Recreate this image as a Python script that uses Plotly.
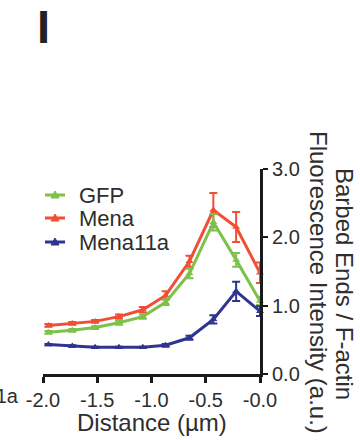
import plotly.graph_objects as go

# ---- data ----
distance = [-1.95, -1.73, -1.52, -1.30, -1.08, -0.87, -0.65, -0.43, -0.22, 0.0]

gfp = [0.61, 0.64, 0.68, 0.75, 0.84, 1.05, 1.47, 2.22, 1.67, 1.07]
gfp_err = [0.02, 0.02, 0.02, 0.03, 0.03, 0.04, 0.07, 0.12, 0.10, 0.06]

mena = [0.71, 0.74, 0.77, 0.84, 0.94, 1.15, 1.65, 2.40, 2.15, 1.48]
mena_err = [0.02, 0.02, 0.02, 0.03, 0.04, 0.06, 0.08, 0.25, 0.22, 0.15]

mena11a = [0.43, 0.41, 0.39, 0.39, 0.39, 0.42, 0.53, 0.80, 1.21, 0.92]
mena11a_err = [0.01, 0.01, 0.01, 0.01, 0.01, 0.02, 0.03, 0.06, 0.14, 0.07]

series_names = ["GFP", "Mena", "Mena11a"]

x_ticks = [-2.0, -1.5, -1.0, -0.5, 0.0]
x_ticklabels = ["-2.0", "-1.5", "-1.0", "-0.5", "-0.0"]
y_ticks = [0, 1, 2, 3]
y_ticklabels = ["0.0", "1.0", "2.0", "3.0"]

GREEN = "#7dc14b"
RED = "#f14e36"
BLUE = "#2f3490"
TXT = "#2e2e2e"
AX = "#1a1a1a"
FONT = "Liberation Sans, Arial, sans-serif"

W, H = 360, 440
ML, MR, MT, MB = 43, 100, 169, 66
PW, PH = W - ML - MR, H - MT - MB


def px(xp):
    return (xp - ML) / PW


def py(yp):
    return (H - MB - yp) / PH


fig = go.Figure()


def add(name, y, err, color):
    fig.add_trace(go.Scatter(
        x=distance, y=y, name=name, mode="lines+markers",
        line=dict(color=color, width=3),
        marker=dict(symbol="triangle-up", size=7, color=color),
        error_y=dict(type="data", array=err, visible=True,
                     color=color, thickness=2, width=4),
        cliponaxis=False, showlegend=False,
    ))


add("Mena", mena, mena_err, RED)
add("GFP", gfp, gfp_err, GREEN)
add("Mena11a", mena11a, mena11a_err, BLUE)

fig.update_layout(
    width=W, height=H,
    margin=dict(l=ML, r=MR, t=MT, b=MB, autoexpand=False),
    paper_bgcolor="white", plot_bgcolor="white",
    font=dict(family=FONT, color=TXT, size=20),
    showlegend=False,
    xaxis=dict(range=[-2.0, 0.0], tickvals=x_ticks, ticktext=x_ticklabels,
               showgrid=False, zeroline=False, showline=True, automargin=False,
               linecolor=AX, linewidth=3, ticks="outside",
               ticklen=6, tickwidth=3, tickcolor=AX,
               tickfont=dict(size=20)),
    yaxis=dict(range=[0, 3.0], tickvals=y_ticks, ticktext=y_ticklabels,
               side="right", showgrid=False, zeroline=False, showline=True,
               automargin=False,
               linecolor=AX, linewidth=3, ticks="outside",
               ticklen=5, tickwidth=2, tickcolor=AX,
               tickfont=dict(size=20)),
)

# legend (drawn manually to match the compact spacing)
legend_colors = [GREEN, RED, BLUE]
legend_y = [195, 218, 242]
for name, col, ly in zip(series_names, legend_colors, legend_y):
    fig.add_shape(type="line", xref="paper", yref="paper",
                  x0=px(45), x1=px(65), y0=py(ly), y1=py(ly),
                  line=dict(color=col, width=3))
    fig.add_shape(type="path", xref="paper", yref="paper",
                  xsizemode="pixel", ysizemode="pixel",
                  xanchor=px(55), yanchor=py(ly),
                  path="M -4,-3 L 4,-3 L 0,4 Z",
                  fillcolor=col, line=dict(color=col, width=1))
    fig.add_annotation(text=name, xref="paper", yref="paper",
                       x=px(77), y=py(ly), xanchor="left", yanchor="middle",
                       showarrow=False, font=dict(size=22))

# axis titles
fig.add_annotation(text="Distance (µm)", xref="paper", yref="paper",
                   x=0.5, y=py(422), xanchor="center", yanchor="middle",
                   showarrow=False, font=dict(size=24))
fig.add_annotation(text="Fluorescence Intensity (a.u.)", xref="paper", yref="paper",
                   x=px(319), y=py(282), xanchor="center", yanchor="middle",
                   textangle=90, showarrow=False, font=dict(size=24))
fig.add_annotation(text="Barbed Ends / F-actin", xref="paper", yref="paper",
                   x=px(345), y=py(284), xanchor="center", yanchor="middle",
                   textangle=90, showarrow=False, font=dict(size=24))
# panel letter
fig.add_annotation(text="<b>I</b>", xref="paper", yref="paper",
                   x=px(43), y=py(26), xanchor="center", yanchor="middle",
                   showarrow=False, font=dict(size=47, color="#222"))
# cut-off label of neighbouring panel
fig.add_annotation(text="Mena11a", xref="paper", yref="paper",
                   x=px(21), y=py(396), xanchor="right", yanchor="middle",
                   showarrow=False, font=dict(size=20))

fig.write_html("out.html")
